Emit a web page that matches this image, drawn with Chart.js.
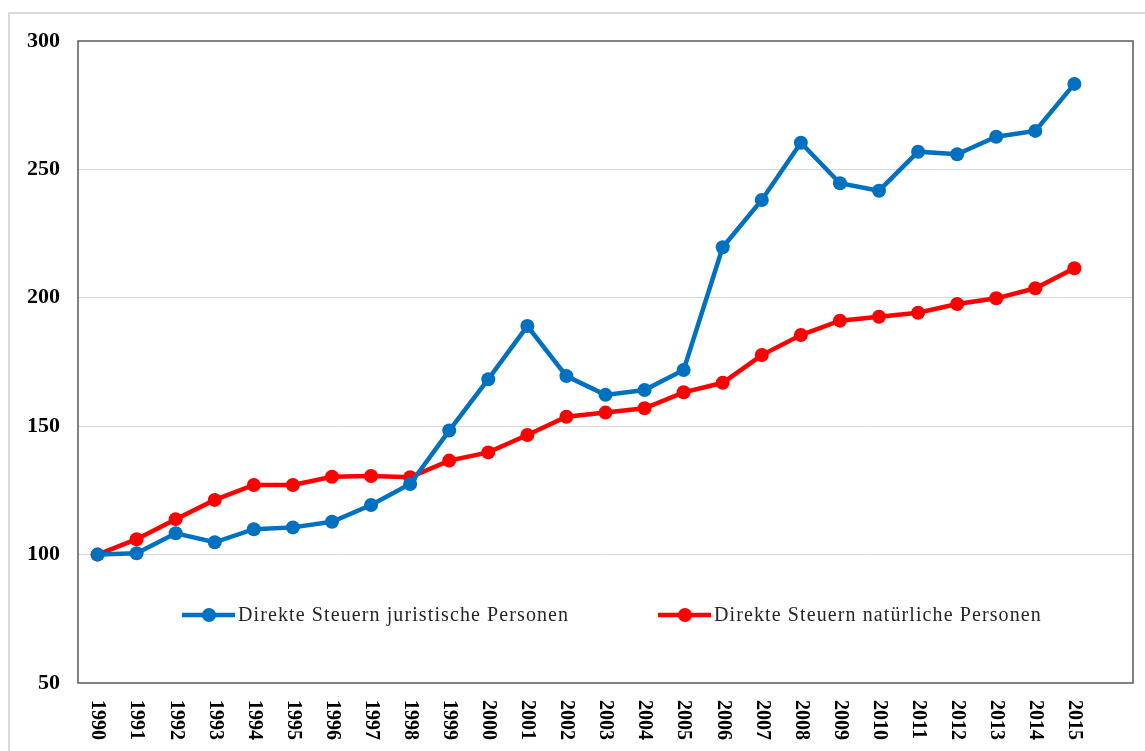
<!DOCTYPE html>
<html>
<head>
<meta charset="utf-8">
<script src="https://cdn.jsdelivr.net/npm/chart.js@4.4.1/dist/chart.umd.min.js"></script>
<style>
  html, body { margin: 0; padding: 0; background: #fff; overflow: hidden; }
  #frame { position: absolute; left: 8px; top: 12px; width: 1300px; height: 900px;
           border-left: 2px solid #dadada; border-top: 2px solid #dadada; }
  #chart { position: absolute; left: 0; top: 0; }
</style>
</head>
<body>
<div id="frame"></div>
<canvas id="chart" width="1145" height="751"></canvas>
<script>
// --- Data ---
const years = [1990, 1991, 1992, 1993, 1994, 1995, 1996, 1997, 1998, 1999, 2000, 2001, 2002,
               2003, 2004, 2005, 2006, 2007, 2008, 2009, 2010, 2011, 2012, 2013, 2014, 2015];
const juristisch = [100, 100.5, 108.3, 104.8, 109.9, 110.6, 112.8, 119.3, 127.5, 148.3, 168.3, 189.0, 169.5,
                    162.2, 164.1, 171.9, 219.7, 238.1, 260.4, 244.6, 241.7, 256.9, 255.9, 262.7, 265.0, 283.3];
const natuerlich = [100, 106.0, 113.8, 121.3, 127.1, 127.1, 130.3, 130.6, 130.1, 136.6, 139.8, 146.6, 153.7,
                    155.3, 157.0, 163.2, 166.9, 177.7, 185.5, 191.1, 192.6, 194.2, 197.6, 199.8, 203.7, 211.5];
const yTicks = [50, 100, 150, 200, 250, 300];
const seriesNames = ['Direkte Steuern juristische Personen', 'Direkte Steuern natürliche Personen'];

const BLUE = '#0070C0';
const RED = '#FF0000';
const SERIF = "'Liberation Serif', 'Times New Roman', serif";

const toPoints = vals => years.map((yr, i) => ({ x: yr, y: vals[i] }));

// Rahmen + gedrehte Jahreszahlen + Legende im Diagramm
const extras = {
    id: 'extras',
    beforeDatasetsDraw(chart) {
        const { ctx, chartArea: a } = chart;
        ctx.save();
        ctx.strokeStyle = '#595959';
        ctx.lineWidth = 1.5;
        ctx.strokeRect(a.left, a.top, a.right - a.left, a.bottom - a.top);
        ctx.restore();
    },
    afterDraw(chart) {
        const { ctx, chartArea: a } = chart;
        const xs = chart.scales.x;
        ctx.save();
        // x labels, read top to bottom
        ctx.font = "bold 20px " + SERIF;
        ctx.fillStyle = '#000';
        ctx.textAlign = 'left';
        ctx.textBaseline = 'middle';
        years.forEach(yr => {
            const px = xs.getPixelForValue(yr);
            ctx.save();
            ctx.translate(px, a.bottom + 17);
            ctx.rotate(Math.PI / 2);
            ctx.fillText(String(yr), 0, 0);
            ctx.restore();
        });
        // legend
        const ly = a.top + 574;
        const items = [
            { x: a.left + 104, color: BLUE, text: seriesNames[0] },
            { x: a.left + 580, color: RED, text: seriesNames[1] }
        ];
        ctx.font = "20px " + SERIF;
        ctx.letterSpacing = '1.1px';
        items.forEach(it => {
            ctx.strokeStyle = it.color;
            ctx.lineWidth = 4.5;
            ctx.beginPath();
            ctx.moveTo(it.x, ly);
            ctx.lineTo(it.x + 53, ly);
            ctx.stroke();
            ctx.fillStyle = it.color;
            ctx.beginPath();
            ctx.arc(it.x + 27, ly, 7, 0, Math.PI * 2);
            ctx.fill();
            ctx.fillStyle = '#262626';
            ctx.fillText(it.text, it.x + 56, ly + 1);
        });
        ctx.restore();
    }
};

new Chart(document.getElementById('chart').getContext('2d'), {
    type: 'line',
    data: {
        datasets: [
            {
                label: seriesNames[0],
                data: toPoints(juristisch),
                borderColor: BLUE,
                backgroundColor: BLUE,
                borderWidth: 4.5,
                pointRadius: 7,
                pointBorderWidth: 0,
                tension: 0
            },
            {
                label: seriesNames[1],
                data: toPoints(natuerlich),
                borderColor: RED,
                backgroundColor: RED,
                borderWidth: 4.5,
                pointRadius: 7,
                pointBorderWidth: 0,
                tension: 0
            }
        ]
    },
    options: {
        responsive: false,
        animation: false,
        layout: { padding: { top: 41, right: 12, left: 0, bottom: 0 } },
        plugins: {
            legend: { display: false },
            tooltip: { enabled: false }
        },
        scales: {
            x: {
                type: 'linear',
                min: 1989.5,
                max: 2016.5,
                afterBuildTicks: scale => { scale.ticks = years.map(v => ({ value: v })); },
                afterFit: scale => { scale.height = 68; },
                ticks: { display: false },
                grid: { display: false },
                border: { display: false }
            },
            y: {
                min: 50,
                max: 300,
                afterBuildTicks: scale => { scale.ticks = yTicks.map(v => ({ value: v })); },
                afterFit: scale => { scale.width = 78; },
                ticks: {
                    padding: 18,
                    color: '#000',
                    font: { family: SERIF, size: 22, weight: 'bold' }
                },
                grid: {
                    drawTicks: false,
                    color: ctx => (ctx.tick && (ctx.tick.value === 50 || ctx.tick.value === 300)) ? 'rgba(0,0,0,0)' : '#d9d9d9',
                    lineWidth: 1
                },
                border: { display: false }
            }
        }
    },
    plugins: [extras]
});
</script>
</body>
</html>
